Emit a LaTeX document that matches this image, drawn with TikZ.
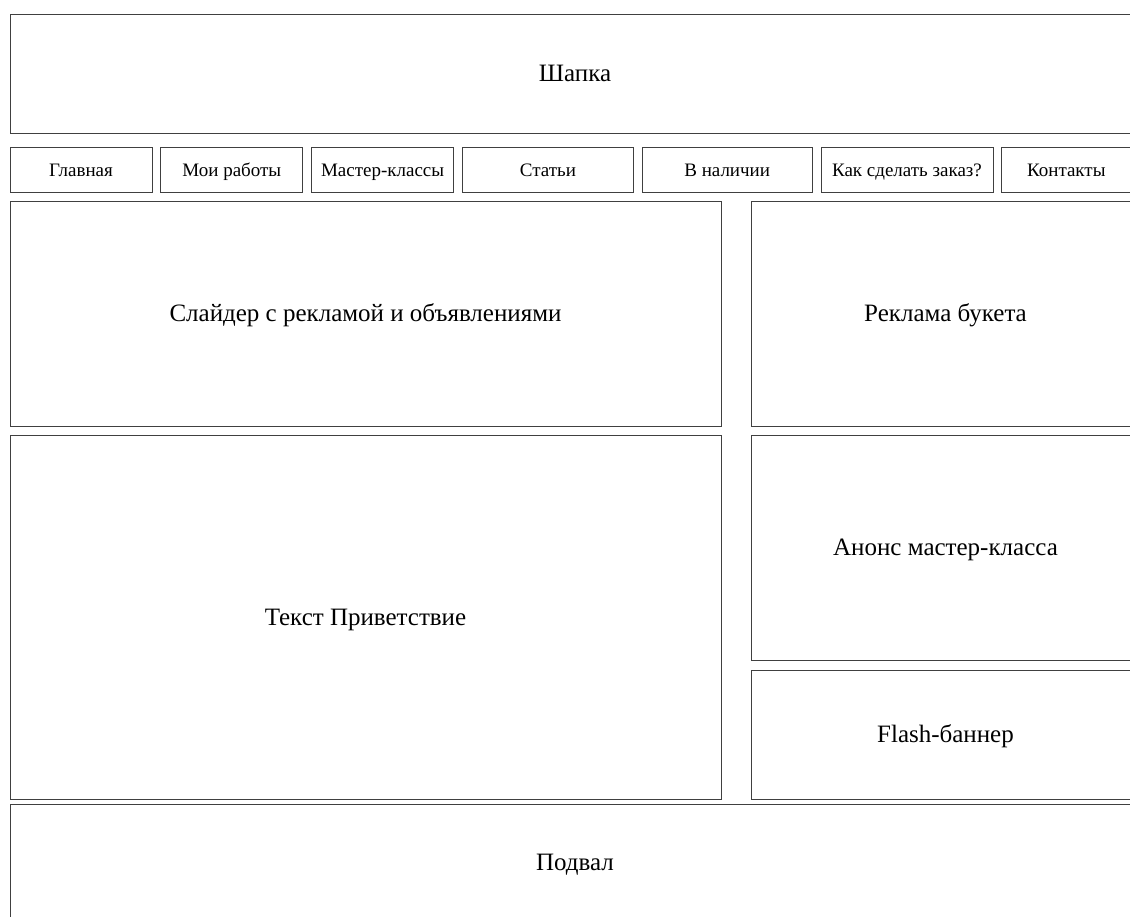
\documentclass[tikz,border=0pt]{standalone}
\usepackage{fontspec}
\setmainfont{Liberation Serif}
\usetikzlibrary{positioning}
\tikzstyle{block}=[draw=black!75, line width=0.8pt, inner sep=0pt, outer sep=0pt, anchor=north west, text height=21pt, text depth=5pt, font=\fontsize{25}{30}\selectfont]
\tikzstyle{menu}=[block, minimum height=45pt, text height=17pt, text depth=4pt, font=\fontsize{19}{22}\selectfont]

\begin{document}
\begin{tikzpicture}[x=1pt, y=-1pt, node distance=8.8pt]
	\useasboundingbox (0,0) rectangle (1130,916);
	\clip (0,0) rectangle (1130,916);
	\node[block, minimum width=1130pt, minimum height=119pt] (shapka) at (10,14) {Шапка};
	% menu
	\node[menu, minimum width=142pt] (glavnaya) at (10,147) {Главная};
	\node[menu, minimum width=142pt, right=of glavnaya] (raboty) {Мои работы};
	\node[menu, minimum width=142pt, right=of raboty] (mk) {Мастер-классы};
	\node[menu, minimum width=171pt, right=of mk] (stati) {Статьи};
	\node[menu, minimum width=170pt, right=of stati] (nalichie) {В наличии};
	\node[menu, minimum width=172pt, right=of nalichie] (zakaz) {Как сделать заказ?};
	\node[menu, minimum width=129pt, right=of zakaz] (kontakty) {Контакты};
	% content
	\node[block, minimum width=711pt, minimum height=225pt] (slider) at (10,201) {Слайдер с рекламой и объявлениями};
	\node[block, minimum width=389pt, minimum height=225pt] (buket) at (751,201) {Реклама букета};
	\node[block, minimum width=711pt, minimum height=364pt] (privet) at (10,435) {Текст Приветствие};
	\node[block, minimum width=389pt, minimum height=225.5pt] (anons) at (751,435) {Анонс мастер-класса};
	\node[block, minimum width=389pt, minimum height=129pt] (flash) at (751,670) {Flash-баннер};
	\node[block, minimum width=1130pt, minimum height=116pt] (podval) at (10,804) {Подвал};
\end{tikzpicture}
\end{document}
